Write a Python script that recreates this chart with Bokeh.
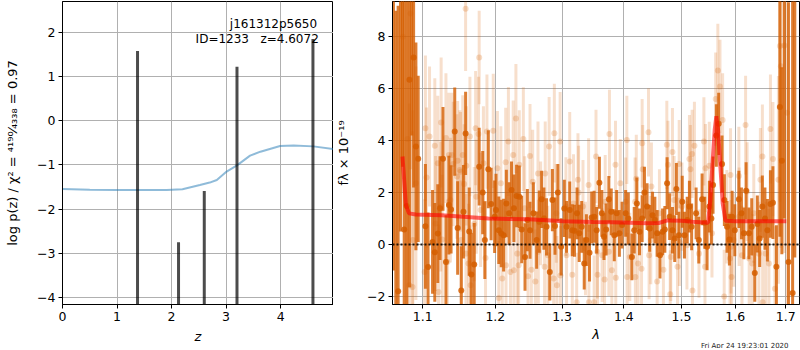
import numpy as np
from bokeh.plotting import figure
from bokeh.layouts import row
from bokeh.models import FixedTicker, Span, Label, Title, ColumnDataSource, PrintfTickFormatter
from bokeh.embed import file_html
from bokeh.resources import INLINE

FONT = "DejaVu Sans"

# ---------------- left panel: redshift PDF ----------------
z_grid = [0.0, 0.5, 1.0, 1.5, 1.91, 2.2, 2.52, 2.7, 2.83, 3.01, 3.2, 3.44, 3.63, 3.99, 4.24, 4.6, 4.97]
logp_curve = [-1.546, -1.56, -1.57, -1.57, -1.57, -1.55, -1.455, -1.40, -1.34, -1.15, -1.01, -0.79, -0.70, -0.57, -0.56, -0.58, -0.64]
z_peaks = [1.376, 2.128, 2.60, 3.20, 4.593]
logp_peaks = [1.58, -2.75, -1.59, 1.22, 1.85]
z_ticks = [0, 1, 2, 3, 4]
lp_ticks = [-4, -3, -2, -1, 0, 1, 2]

obj_name = "j161312p5650"
obj_id = 1233
z_best = 4.6072
chi2_num, chi2_den, chi2_red = 4190, 4338, 0.97
date_str = "Fri Apr 24 19:23:01 2020"

# ---------------- right panel: spectrum ----------------
# binned (dark) spectrum
lam_bin = [1.062, 1.065, 1.068, 1.071, 1.0735, 1.0758, 1.079, 1.0826, 1.0855, 1.088, 1.091, 1.094,
           1.1035, 1.107, 1.113, 1.116, 1.120, 1.123, 1.127, 1.131, 1.135, 1.138, 1.143, 1.147,
           1.152, 1.155, 1.158, 1.163, 1.166, 1.170, 1.177, 1.182, 1.185, 1.190, 1.194, 1.199,
           1.201, 1.205, 1.2085, 1.212, 1.216, 1.220, 1.2235, 1.227, 1.231, 1.235, 1.2385, 1.2435,
           1.247, 1.251, 1.256, 1.261, 1.265, 1.2685, 1.272, 1.276, 1.281, 1.285, 1.289, 1.2935,
           1.2985, 1.3035, 1.307, 1.312, 1.316, 1.3195, 1.3235, 1.327, 1.331, 1.335, 1.3385, 1.3435, 1.347,
           1.351, 1.355, 1.3595, 1.3635, 1.367, 1.3705, 1.375, 1.379, 1.384, 1.388, 1.3925, 1.397,
           1.403, 1.4075, 1.4135, 1.4175, 1.422, 1.4265, 1.431, 1.435, 1.4395, 1.444, 1.449, 1.453,
           1.457, 1.462, 1.4665, 1.4705, 1.4745, 1.479, 1.484, 1.488, 1.491, 1.4955, 1.5015, 1.5055,
           1.5105, 1.5145, 1.5185,
           1.5267, 1.5316, 1.5377, 1.5426, 1.5469, 1.5512, 1.5549, 1.558, 1.5642, 1.5686, 1.5749,
           1.5793, 1.5844, 1.5889, 1.594, 1.5992, 1.607, 1.612, 1.6167, 1.621, 1.6265, 1.632, 1.638,
           1.643, 1.6476, 1.6529, 1.658, 1.663, 1.669, 1.674, 1.681,
           1.688, 1.692, 1.697, 1.7055, 1.714, 1.7185]
flux_bin = [11.0, -3.0, -1.80, 10.5, 12.0, 0.58, 1.48, 6.35, 10.2, 7.20, 3.78, 3.30,
            0.70, -0.87, 0.10, -0.30, 0.42, 1.40, 3.30, -0.67, 1.52, 1.35, 4.35, 0.64,
            -1.77, 1.26, 4.28, 0.50, -1.15, -0.77, 3.00, 2.00, 0.17, 2.90, 1.56, 1.07,
            1.33, 0.55, 0.42, 0.36, 1.58, 1.20, 2.10, 1.40, 1.87, 1.84, 0.58, -0.48,
            0.94, 0.55, 1.20, 0.17, 0.88, 1.74, 1.00, 0.68, -1.06, 1.71, 0.71, 2.00,
            -0.09, 1.39, 0.68, 1.33, 0.55, 0.53, 1.20, 0.43, 0.68, -0.73, 0.17, -0.32, 1.04,
            1.07, 0.55, 2.38, 1.20, 0.30, 0.58, 1.74, 1.26, 0.36, 1.20, 0.43, 0.75,
            1.20, 1.00, -0.48, 0.55, 1.58, 0.49, 1.00, 2.00, 1.46, 0.62, 1.13, 0.94,
            0.43, -0.41, 0.49, 0.58, 2.36, 1.07, 0.55, 0.23, 2.14, 0.36, 1.65, 0.36,
            0.94, 1.46, 0.68,
            1.20, 0.17, 1.74, 0.84, -0.09, 1.46, 1.00, 2.29, 4.20, 4.65, 3.10,
            1.71, 0.68, 0.19, 1.07, 0.55, 1.74, 1.20, 0.43, 2.07, 0.43, 0.68, -1.10,
            0.79, 0.23, 1.46, 1.00, 0.55, 1.56, 1.61, -0.86,
            5.30, 3.23, 12.0, -0.67, -1.87, 10.5]
err_bin = [12.0, 12.0, 11.0, 10.0, 9.0, 9.0, 9.0, 8.0, 6.0, 5.0, 4.0, 3.2,
           2.4, 2.1, 2.0, 1.9, 1.9, 2.0, 2.0, 1.8, 1.9, 1.7, 1.7, 1.8,
           1.7, 1.8, 1.6, 1.7, 1.6, 1.6, 1.5, 1.6, 1.5, 1.5, 1.4, 1.4,
           1.4, 1.3, 1.3, 1.4, 1.3, 1.2, 1.1, 1.3, 1.2, 1.2, 1.3, 1.3,
           1.2, 1.1, 1.2, 1.1, 1.2, 1.1, 1.2, 1.1, 1.1, 1.2, 1.1, 1.1,
           1.1, 1.1, 1.0, 1.1, 1.0, 1.0, 1.0, 1.1, 1.0, 1.0, 1.0, 1.1, 1.0,
           1.0, 0.9, 1.0, 0.9, 0.9, 1.0, 0.9, 0.9, 1.0, 0.9, 0.9, 0.9,
           0.9, 1.0, 0.9, 0.9, 1.0, 0.9, 0.9, 1.0, 0.9, 0.9, 0.9, 0.9,
           0.9, 0.9, 0.9, 0.9, 1.0, 0.9, 0.9, 0.9, 1.0, 0.9, 1.0, 0.9,
           0.9, 1.0, 0.9,
           1.0, 0.9, 1.0, 1.0, 0.9, 1.0, 1.0, 1.1, 1.2, 1.2, 1.1,
           1.0, 1.0, 1.0, 1.0, 1.0, 1.1, 1.0, 1.0, 1.1, 1.0, 1.1, 1.1,
           1.1, 1.1, 1.2, 1.2, 1.2, 1.3, 1.4, 1.6,
           5.0, 3.6, 11.0, 10.0, 12.0, 11.0]

# unbinned (light) spectrum
lam_raw = [1.074, 1.080, 1.0825, 1.084, 1.0865, 1.087, 1.091,
           1.1025, 1.1035, 1.105, 1.109, 1.116, 1.117, 1.120, 1.121, 1.124, 1.1245, 1.126, 1.131,
           1.133, 1.135, 1.137, 1.139, 1.141, 1.146, 1.147, 1.150, 1.151, 1.152, 1.154, 1.156,
           1.158, 1.1585, 1.159, 1.162, 1.164, 1.165, 1.170, 1.172, 1.173, 1.176, 1.177, 1.179,
           1.183, 1.186, 1.188,
           1.197, 1.203, 1.205, 1.208, 1.210, 1.215, 1.2155, 1.219, 1.222, 1.226, 1.227, 1.230,
           1.232, 1.234, 1.235, 1.241, 1.243, 1.248, 1.251, 1.253, 1.255, 1.259, 1.263, 1.2635,
           1.267, 1.273, 1.274, 1.278, 1.280, 1.287, 1.288, 1.291, 1.292, 1.297, 1.2975, 1.306,
           1.307, 1.312, 1.316, 1.318, 1.323, 1.325, 1.326, 1.333, 1.337, 1.342, 1.3425,
           1.351, 1.354, 1.356, 1.3565, 1.364, 1.368, 1.369, 1.375, 1.376, 1.380, 1.386, 1.3865,
           1.394, 1.403, 1.405, 1.4055, 1.410, 1.419, 1.4195, 1.421, 1.424, 1.430, 1.431, 1.432,
           1.442, 1.443, 1.446, 1.447, 1.457, 1.461, 1.468, 1.474, 1.476, 1.480, 1.481, 1.484,
           1.487, 1.493, 1.496, 1.4965, 1.501, 1.510, 1.5145, 1.5163, 1.5194, 1.520, 1.5236,
           1.532, 1.541, 1.543, 1.544, 1.551, 1.556, 1.563, 1.567, 1.571, 1.576, 1.579, 1.584,
           1.590, 1.591, 1.592, 1.593, 1.597, 1.607, 1.6075, 1.613, 1.620, 1.623, 1.627, 1.633,
           1.636, 1.646, 1.649, 1.653, 1.6535, 1.6595, 1.666, 1.669, 1.674, 1.678, 1.685, 1.688,
           1.690, 1.697, 1.7027]
flux_raw = [8.0, 4.06, -1.57, 8.9, -1.64, 0.17, 2.36,
            -1.06, 4.48, 2.58, 4.16, 3.80, 0.81, 3.13, -1.83, 1.46, 4.70, 0.19, 4.10,
            -0.67, 3.45, 1.71, 3.45, 3.10, 2.62, 3.23, 2.87, 2.80, 0.17, 3.45, 2.33,
            9.08, -0.35, 3.03, -0.73, 4.16, -1.57, 0.79, 4.48, 1.84, 4.26, 7.20, 1.33,
            3.13, -0.52, 4.35,
            4.38, 2.94, -2.06, 2.36, -1.31, 3.17, -0.80, 3.97, -1.06, 3.45, -0.99, 4.85,
            -0.35, -0.80, 3.07, 4.06, 1.40, -1.22, 3.41, -0.97, 2.42, -1.42, 2.74, -0.28,
            1.20, -0.86, 2.74, -0.41, 3.78, -1.31, 4.29, 1.20, -1.57, 3.97, -1.19, 1.46,
            -0.41, 3.20, -1.16, 1.58, -2.22, 2.49, 2.00, 1.46, -0.15, 2.29, -2.22,
            -2.22, 3.39, -0.28, -1.16, -0.41, -1.35, 1.65, -0.28, 4.26, -0.99, 3.07, -1.28,
            2.36, 1.65, 4.03, -1.25, -0.48, 1.65, -1.25, 2.53, -0.73, -0.93, 3.90, 2.90,
            4.32, -0.41, 0.17, 2.23, -1.42, 1.20, -0.97, 3.84, 3.07, -1.92, -0.48, 3.56,
            1.71, -0.86, 3.10, 0.10, 1.46, -0.03, 3.29, 2.90, 3.49, -1.77, 3.80,
            -0.35, 3.97, -0.86, 2.94, 3.03, 0.43, 5.60, 6.70, 6.09, 4.80, -2.00, 1.07,
            -0.54, 2.68, -0.09, -1.25, 0.17, 2.64, 1.07, -0.41, 4.60, 2.04, -0.54, -0.73,
            1.20, -0.35, 2.49, 3.39, -2.22, -0.35, -0.73, 4.45, 3.29, -1.70, 2.49, 7.65,
            6.87, 7.67, 5.08]
err_raw = [6.0, 8.0, 7.0, 6.0, 6.0, 5.0, 4.5,
           2.8, 2.8, 2.7, 2.7, 2.6, 2.6, 2.6, 2.6, 2.5, 2.5, 2.5, 2.5,
           2.4, 2.4, 2.4, 2.4, 2.4, 2.4, 2.3, 2.3, 2.3, 2.3, 2.3, 2.3,
           2.4, 2.3, 2.3, 2.3, 2.3, 2.3, 2.2, 2.2, 2.2, 2.2, 1.8, 2.2,
           2.2, 2.2, 2.2,
           2.2, 2.2, 2.2, 2.2, 2.2, 2.1, 2.1, 2.1, 2.1, 2.1, 2.1, 2.1,
           2.1, 2.1, 2.1, 2.0, 2.0, 2.0, 2.0, 2.0, 2.0, 2.0, 2.0, 2.0,
           2.0, 2.0, 2.0, 1.9, 1.9, 1.9, 1.9, 1.9, 1.9, 1.9, 1.9, 1.9,
           1.9, 1.9, 1.9, 1.9, 1.9, 1.8, 1.8, 1.8, 1.8, 1.8, 1.8,
           1.8, 1.8, 1.8, 1.8, 1.8, 1.8, 1.8, 1.7, 1.7, 1.7, 1.7, 1.7,
           1.7, 1.7, 1.7, 1.7, 1.7, 1.7, 1.7, 1.7, 1.7, 1.7, 1.7, 1.7,
           1.7, 1.7, 1.7, 1.7, 1.7, 1.7, 1.7, 1.7, 1.7, 1.7, 1.7, 1.7,
           1.7, 1.7, 1.7, 1.7, 1.7, 1.7, 1.7, 1.7, 1.7, 1.7, 1.7,
           1.7, 1.7, 1.7, 1.7, 1.7, 1.7, 1.8, 1.8, 1.8, 1.8, 1.8, 1.8,
           1.8, 1.8, 1.8, 1.8, 1.8, 1.9, 1.9, 1.9, 1.9, 1.9, 1.9, 1.9,
           1.9, 2.0, 2.0, 2.0, 2.0, 2.0, 2.1, 2.1, 2.2, 2.4, 4.0, 6.0,
           7.0, 8.0, 9.0]

# best-fit model
lam_model = [1.0736, 1.078, 1.082, 1.0908, 1.125, 1.19, 1.25, 1.302, 1.35, 1.38, 1.4106,
             1.44, 1.46, 1.475, 1.50, 1.52, 1.5487, 1.5528, 1.5574, 1.5611, 1.5642, 1.5674,
             1.5718, 1.5762, 1.5813, 1.60, 1.65, 1.701]
flux_model = [3.39, 1.52, 1.20, 1.16, 1.13, 1.00, 0.97, 0.90, 0.87, 0.86, 0.84,
              0.82, 0.83, 0.93, 0.92, 0.88, 0.84, 1.71, 3.26, 4.42, 4.94, 4.42,
              3.00, 1.58, 0.92, 0.90, 0.90, 0.90]

lam_ticks = [1.1, 1.2, 1.3, 1.4, 1.5, 1.6, 1.7]
fl_ticks = [-2, 0, 2, 4, 6, 8]

C_G141 = "#d55e00"


def style_axes(p, xlabel, ylabel, xticks, yticks, xfmt=None, xlab_standoff=6, ylab_standoff=10):
    p.xaxis.ticker = FixedTicker(ticks=xticks)
    p.yaxis.ticker = FixedTicker(ticks=yticks)
    p.xgrid.ticker = FixedTicker(ticks=xticks)
    p.ygrid.ticker = FixedTicker(ticks=yticks)
    if xfmt is not None:
        p.xaxis.formatter = xfmt
    p.yaxis.major_label_overrides = {t: (str(t).replace("-", "\u2212")) for t in yticks}
    p.xaxis.axis_label = xlabel
    p.yaxis.axis_label = ylabel
    for ax in (p.xaxis[0], p.yaxis[0]):
        ax.major_label_text_font = FONT
        ax.major_label_text_font_size = "12.5px"
        ax.major_label_text_color = "black"
        ax.axis_label_text_font = FONT
        ax.axis_label_text_font_size = "13px"
        ax.axis_label_text_color = "black"
        ax.major_tick_in = 0
        ax.major_tick_out = 4
        ax.minor_tick_line_color = None
        ax.axis_line_color = "black"
        ax.major_tick_line_color = "black"
    p.xaxis.major_label_standoff = 3
    p.yaxis.major_label_standoff = 3
    p.xaxis.axis_label_text_font_style = "italic"
    p.yaxis.axis_label_text_font_style = "normal"
    p.xaxis.axis_label_standoff = xlab_standoff
    p.yaxis.axis_label_standoff = ylab_standoff
    p.grid.grid_line_color = "#b0b0b0"
    p.grid.grid_line_width = 1
    p.outline_line_color = "black"
    p.outline_line_width = 1
    p.outline_line_alpha = 1
    p.background_fill_color = "white"
    p.border_fill_color = "white"


# ---------------- left figure ----------------
p1 = figure(frame_width=271, frame_height=303, x_range=(0, 4.97), y_range=(-4.16, 2.70),
            output_backend="svg", toolbar_location=None,
            min_border_left=62, min_border_right=0, min_border_top=1, min_border_bottom=40)
p1.line(z_grid, logp_curve, line_color="#1f77b4", line_alpha=0.5, line_width=2)
p1.vbar(x=z_peaks, top=logp_peaks, bottom=-5, width=0.055,
        fill_color="black", fill_alpha=0.7, line_color=None)
ylab1 = ("log p(z) / \u03c7\u00b2 = \u2074\u00b9\u2079\u2070\u2044\u2084\u2083\u2083\u2088 = %.2f" % chi2_red)
style_axes(p1, "z", ylab1, z_ticks, lp_ticks, xlab_standoff=5, ylab_standoff=14)
p1.add_layout(Label(x=4.67, y=2.18, text=obj_name, text_align="right", text_baseline="alphabetic",
                    text_font=FONT, text_font_size="12px", text_color="black"))
p1.add_layout(Label(x=4.70, y=1.86, text="ID=%d\u00a0\u00a0\u00a0z=%.4f" % (obj_id, z_best), text_align="right",
                    text_baseline="alphabetic", text_font=FONT, text_font_size="12px", text_color="black"))

# ---------------- right figure ----------------
p2 = figure(frame_width=407, frame_height=303, x_range=(1.0608, 1.7282), y_range=(-2.31, 9.36),
            x_axis_type="log", output_backend="svg", toolbar_location=None,
            min_border_left=59, min_border_right=1, min_border_top=1, min_border_bottom=0)

fr = np.array(flux_raw); er = np.array(err_raw)
src_raw = ColumnDataSource(dict(x=lam_raw, y=flux_raw, y0=list(fr - er), y1=list(fr + er)))
fb = np.array(flux_bin); eb = np.array(err_bin)
src_bin = ColumnDataSource(dict(x=lam_bin, y=flux_bin, y0=list(fb - eb), y1=list(fb + eb)))

p2.segment(x0="x", y0="y0", x1="x", y1="y1", source=src_raw, line_color=C_G141, line_alpha=0.2, line_width=3)
p2.scatter(x="x", y="y", source=src_raw, size=6, fill_color=C_G141, fill_alpha=0.22, line_color=None)
p2.segment(x0="x", y0="y0", x1="x", y1="y1", source=src_bin, line_color=C_G141, line_alpha=0.8, line_width=3)
p2.scatter(x="x", y="y", source=src_bin, size=6, fill_color=C_G141, fill_alpha=0.85, line_color=None)
p2.line(lam_model, flux_model, line_color="red", line_alpha=0.6, line_width=4)
p2.add_layout(Span(location=0, dimension="width", line_color="black", line_alpha=0.85,
                   line_width=2, line_dash="2 2"))
style_axes(p2, "\u03bb", "f\u03bb \u00d7 10\u207b\u00b9\u2079", lam_ticks, fl_ticks,
           xfmt=PrintfTickFormatter(format="%.1f"), xlab_standoff=3, ylab_standoff=13)
p2.add_layout(Title(text=date_str, align="right", offset=11, standoff=-6, vertical_align="top",
                    text_font=FONT, text_font_size="7px", text_font_style="normal",
                    text_color="#222222"), "below")

layout = row(p1, p2, spacing=0)
open("out.html", "w").write(file_html(layout, INLINE))
